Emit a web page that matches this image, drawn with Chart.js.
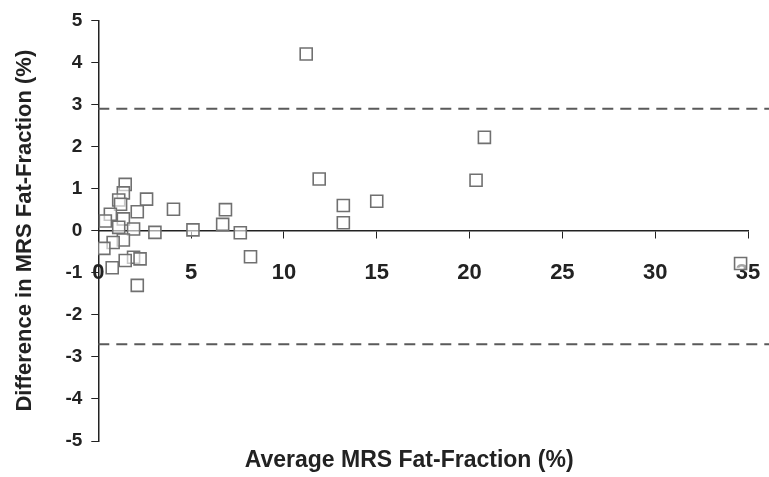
<!DOCTYPE html>
<html>
<head>
<meta charset="utf-8">
<script src="https://cdn.jsdelivr.net/npm/chart.js@4"></script>
<style>
  html, body { margin: 0; padding: 0; background: #fff; }
  #wrap { width: 769px; height: 477px; }
</style>
</head>
<body>
<div id="wrap"><canvas id="grafico"></canvas></div>
<script>
// =============================
// DADOS
// =============================
const avgFat = [11.2, 20.8, 20.35, 11.9, 13.2, 13.2, 15.0, 34.6, 6.85, 6.7,
  5.1, 7.65, 8.2, 4.05, 3.05, 1.45, 1.35, 2.6, 1.1, 1.2,
  2.1, 0.65, 0.38, 1.35, 1.1, 1.9, 1.35, 0.8, 0.3, 1.9,
  2.25, 1.45, 0.75, 2.1];
const diffFat = [4.2, 2.22, 1.2, 1.23, 0.6, 0.19, 0.7, -0.78, 0.5, 0.15,
  0.02, -0.05, -0.62, 0.51, -0.04, 1.1, 0.9, 0.75, 0.73, 0.63,
  0.45, 0.39, 0.23, 0.28, 0.08, 0.04, -0.22, -0.28, -0.42, -0.63,
  -0.67, -0.71, -0.88, -1.3];

// limites de concordância
const limites = [2.9, -2.7];
const limiteX = [0, 36.2];

const xTicks = [0, 5, 10, 15, 20, 25, 30, 35];
const yTicks = [-5, -4, -3, -2, -1, 0, 1, 2, 3, 4, 5];

const tituloX = "Average MRS Fat-Fraction (%)";
const tituloY = "Difference in MRS Fat-Fraction (%)";

// =============================
// DATASETS
// =============================
const pontos = avgFat.map((x, i) => ({ x: x, y: diffFat[i] }));

const linhasLimite = limites.map(v => ({
  type: "line",
  data: limiteX.map(x => ({ x: x, y: v })),
  borderColor: "#5a5a5a",
  borderWidth: 2.2,
  borderDash: [11, 7],
  pointRadius: 0,
  fill: false,
  clip: false
}));

const fonte = { family: "'Liberation Sans', Arial, sans-serif", weight: "bold" };

// título do eixo X embaixo do gráfico (o eixo fica no zero)
const tituloXPlugin = {
  id: "tituloX",
  afterDraw(chart) {
    const area = chart.chartArea;
    const ctx = chart.ctx;
    ctx.save();
    ctx.font = "bold 23px 'Liberation Sans', Arial, sans-serif";
    ctx.fillStyle = "#222";
    ctx.textAlign = "center";
    ctx.textBaseline = "middle";
    ctx.fillText(tituloX, (area.left + area.right) / 2 - 14, area.bottom + 20);
    ctx.restore();
  }
};

new Chart(document.getElementById("grafico"), {
  type: "scatter",
  data: {
    datasets: [
      ...linhasLimite,
      {
        data: pontos,
        pointStyle: "rect",
        pointRadius: 8.5,
        pointHoverRadius: 8.5,
        pointBackgroundColor: "rgba(255,255,255,0.6)",
        pointBorderColor: "#707070",
        pointBorderWidth: 1.6
      }
    ]
  },
  options: {
    responsive: true,
    maintainAspectRatio: false,
    animation: false,
    layout: { padding: { left: 12, right: 21, top: 9, bottom: 36 } },
    plugins: {
      legend: { display: false },
      tooltip: { enabled: false }
    },
    scales: {
      x: {
        type: "linear",
        position: { y: 0 },
        min: 0,
        max: 35,
        afterBuildTicks: axis => { axis.ticks = xTicks.map(v => ({ value: v })); },
        afterFit: axis => { axis.paddingLeft = 0; axis.paddingRight = 0; },
        ticks: { color: "#222", font: { ...fonte, size: 22 }, padding: 22 },
        grid: { drawOnChartArea: false, drawTicks: true, tickLength: 7, color: "#222" },
        border: { color: "#222", width: 1.5 }
      },
      y: {
        type: "linear",
        min: -5,
        max: 5,
        afterBuildTicks: axis => { axis.ticks = yTicks.map(v => ({ value: v })); },
        ticks: { color: "#222", font: { ...fonte, size: 19 }, padding: 9 },
        grid: { drawOnChartArea: false, drawTicks: true, tickLength: 7, color: "#222" },
        border: { color: "#222", width: 1.5 },
        title: {
          display: true,
          text: tituloY,
          color: "#222",
          font: { ...fonte, size: 22 },
          padding: { top: 0, bottom: 18 }
        }
      }
    }
  },
  plugins: [tituloXPlugin]
});
</script>
</body>
</html>
